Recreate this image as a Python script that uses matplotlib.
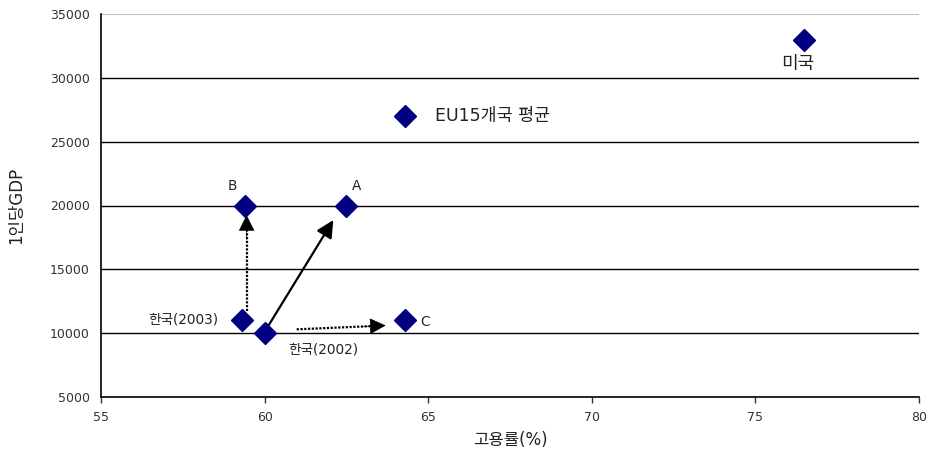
import matplotlib
matplotlib.use("Agg")
from matplotlib import pyplot as plt

plt.rcParams['font.family'] = ['DejaVu Sans', 'Noto Sans CJK KR']

# 고용률(%) vs 1인당GDP
names = ['한국(2002)', '한국(2003)', 'B', 'A', 'C', 'EU15개국 평균', '미국']
emp_rate = [60.0, 59.3, 59.4, 62.5, 64.3, 64.3, 76.5]
gdp = [10000, 11000, 20000, 20000, 11000, 27000, 33000]

# arrows: (start x, start y, end x, end y)
arrow_solid = (59.94, 9850, 62.1, 18860)
arrow_dot_up = (59.45, 11700, 59.45, 19250)
arrow_dot_right = (60.98, 10300, 63.7, 10600)

yticks = [5000, 10000, 15000, 20000, 25000, 30000, 35000]
xticks = [55, 60, 65, 70, 75, 80]

fig = plt.figure(figsize=(9.29, 4.49), dpi=100)
ax = fig.add_axes([101 / 929, 52 / 449, 818 / 929, 383 / 449])

# horizontal grid
for yv in yticks[1:-1]:
    ax.axhline(yv, color='black', lw=1.0, zorder=1)
ax.axhline(35000, color='#c0c0c0', lw=1.5, zorder=1)

# arrows
ax.annotate('', xy=arrow_solid[2:], xytext=arrow_solid[:2],
            arrowprops=dict(arrowstyle='-|>', color='black', lw=1.6,
                            mutation_scale=26, shrinkA=0, shrinkB=0), zorder=2)
for x0, y0, x1, y1 in (arrow_dot_up, arrow_dot_right):
    # dotted shaft, then a short solid head at the end
    ax.plot([x0, x0 + 0.85 * (x1 - x0)], [y0, y0 + 0.85 * (y1 - y0)],
            color='black', lw=1.6, linestyle=(0, (1, 0.7)), zorder=2)
    ax.annotate('', xy=(x1, y1),
                xytext=(x0 + 0.75 * (x1 - x0), y0 + 0.75 * (y1 - y0)),
                arrowprops=dict(arrowstyle='-|>', color='black', lw=0.5,
                                mutation_scale=26, shrinkA=0, shrinkB=0), zorder=2)

ax.plot(emp_rate, gdp, 'D', color='#000080', markersize=11.5, zorder=3)

# labels
fs = 9.8
ax.text(59.0, 21500, 'B', ha='center', va='center', fontsize=fs, color='#222222')
ax.text(62.8, 21500, 'A', ha='center', va='center', fontsize=fs, color='#222222')
ax.text(64.75, 10900, 'C', ha='left', va='center', fontsize=fs, color='#222222')
ax.text(58.6, 11050, '한국(2003)', ha='right', va='center', fontsize=fs, color='#222222')
ax.text(61.8, 8750, '한국(2002)', ha='center', va='center', fontsize=fs, color='#222222')
ax.text(65.2, 27000, 'EU15개국 평균', ha='left', va='center', fontsize=12.5, color='#222222')
ax.text(76.3, 31100, '미국', ha='center', va='center', fontsize=13, color='#222222')

ax.set_xlim(55, 80)
ax.set_ylim(5000, 35000)
ax.set_xticks(xticks)
ax.set_yticks(yticks)
ax.tick_params(labelsize=9, colors='#333333', length=4, width=1)
ax.tick_params(axis='x', direction='out', pad=6)
ax.tick_params(axis='y', length=0, pad=8)
ax.spines['top'].set_visible(False)
ax.spines['right'].set_visible(False)
ax.spines['left'].set_linewidth(1.2)
ax.spines['bottom'].set_linewidth(1.2)

ax.set_xlabel('고용률(%)', fontsize=12, color='#222222', labelpad=5)
ax.set_ylabel('1인당GDP', fontsize=12, color='#222222', labelpad=18)

plt.savefig('out.png', dpi=100)
plt.close()
